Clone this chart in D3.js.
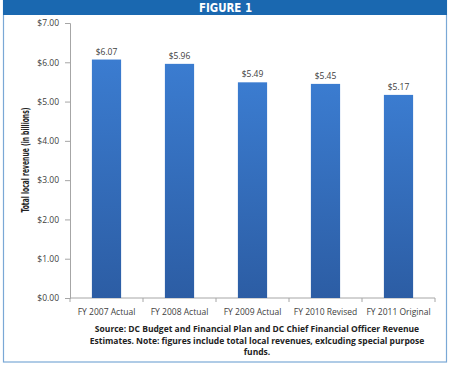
<!DOCTYPE html>
<html><head><meta charset="utf-8">
<script src="https://cdn.jsdelivr.net/npm/d3@7"></script>
<style>body{margin:0;background:#fff}svg{display:block}</style>
</head><body>
<script>
const categories = ["FY 2007 Actual","FY 2008 Actual","FY 2009 Actual","FY 2010 Revised","FY 2011 Original"];
const values = [6.07, 5.96, 5.49, 5.45, 5.17];
const yTicks = [0,1,2,3,4,5,6,7];
const title = "FIGURE 1";
const yTitle = "Total local revenue (in billions)";
const sourceLines = ["Source: DC Budget and Financial Plan and DC Chief Financial Officer Revenue","Estimates.  Note: figures include total local revenues, exlcuding special purpose","funds."];

const W=450,H=368;
const svg=d3.select("body").append("svg").attr("width",W).attr("height",H);
const defs=svg.append("defs");
const g=defs.append("linearGradient").attr("id","bg").attr("x1",0).attr("x2",0).attr("y1",0).attr("y2",1);
g.append("stop").attr("offset","0%").attr("stop-color","#3b7cd0");
g.append("stop").attr("offset","100%").attr("stop-color","#2c5da4");

// frame
svg.append("rect").attr("x",3.5).attr("y",0.5).attr("width",443).attr("height",361.5).attr("fill","#fff").attr("stroke","#7aa8d6").attr("stroke-width",1.2);
svg.append("rect").attr("x",3).attr("y",0).attr("width",444).attr("height",15).attr("fill","#1a68b0");
svg.append("text").attr("x",225.5).attr("y",12.4).attr("text-anchor","middle").attr("fill","#fff")
  .attr("font-family","'DejaVu Sans Condensed','Roboto',Arial").attr("font-weight","bold").attr("font-size",13)
  .attr("textLength",53).attr("lengthAdjust","spacingAndGlyphs").text(title);

const x=d3.scaleBand().domain(categories).range([70,435]).paddingInner(0.6).paddingOuter(0.3);
const y=d3.scaleLinear().domain([0,7]).range([298,23]);

const font="'Open Sans','DejaVu Sans',sans-serif";
// y axis
const ya=svg.append("g").attr("transform","translate(70,0)")
  .call(d3.axisLeft(y).tickValues(yTicks).tickFormat(d=>"$"+d3.format(".2f")(d)).tickSize(5).tickPadding(6));
ya.select(".domain").attr("stroke","#a6a6a6");
ya.selectAll(".tick line").attr("stroke","#a6a6a6");
ya.selectAll("text").attr("font-family",font).attr("font-size",8.5).attr("fill","#404040");

// x axis
const xa=svg.append("g").attr("transform","translate(0,298)")
  .call(d3.axisBottom(x).tickSize(0).tickPadding(11));
xa.select(".domain").attr("stroke","#a6a6a6").attr("d","M70,0H435");
xa.selectAll("text").attr("font-family",font).attr("font-size",8.5).attr("fill","#404040");
const bounds=d3.range(categories.length+1).map(i=>70+i*x.step());
svg.append("g").selectAll("line").data(bounds).join("line")
  .attr("x1",d=>d).attr("x2",d=>d).attr("y1",298).attr("y2",302).attr("stroke","#a6a6a6");

// bars
svg.append("g").selectAll("rect").data(values).join("rect")
  .attr("x",(d,i)=>x(categories[i])).attr("width",x.bandwidth())
  .attr("y",d=>y(d)).attr("height",d=>298-y(d)).attr("fill","url(#bg)");
svg.append("g").selectAll("text").data(values).join("text")
  .attr("x",(d,i)=>x(categories[i])+x.bandwidth()/2).attr("y",d=>y(d)-5)
  .attr("text-anchor","middle").attr("font-family",font).attr("font-size",8.5).attr("fill","#404040")
  .text(d=>"$"+d3.format(".2f")(d));

// y title
svg.append("text").attr("transform","translate(28.5,160) rotate(-90)").attr("text-anchor","middle")
  .attr("font-family","'DejaVu Sans Condensed','Roboto',Arial").attr("font-weight","bold").attr("font-size",10)
  .attr("textLength",105).attr("lengthAdjust","spacingAndGlyphs").attr("fill","#222").text(yTitle);

// source
svg.append("g").selectAll("text").data(sourceLines).join("text")
  .attr("x",257).attr("y",(d,i)=>332+i*11.5).attr("text-anchor","middle")
  .attr("font-family",font).attr("font-weight","bold").attr("font-size",8.5).attr("fill","#222").text(d=>d);
</script>
</body></html>
